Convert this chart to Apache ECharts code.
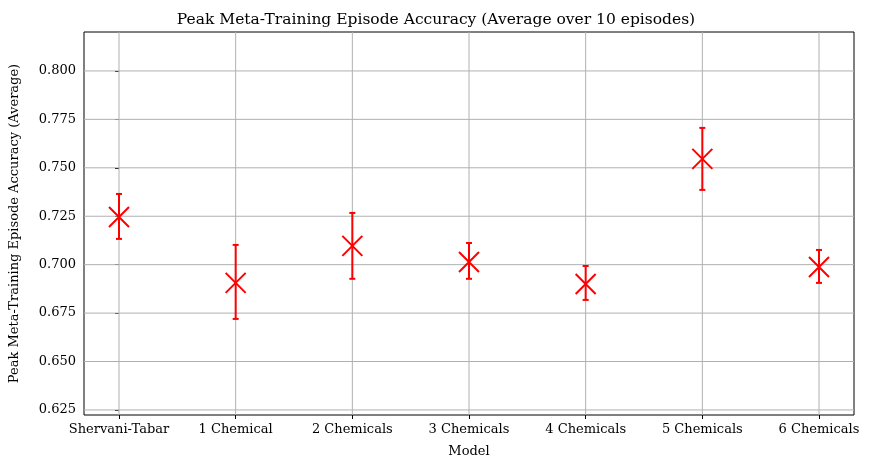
<!DOCTYPE html>
<html><head><meta charset="utf-8">
<script src="https://cdn.jsdelivr.net/npm/echarts@6/dist/echarts.min.js"></script>
<style>html,body{margin:0;background:#fff}#c{width:872px;height:469px}</style>
</head><body><div id="c"></div>
<script>
const categories = ['Shervani-Tabar', '1 Chemical', '2 Chemicals', '3 Chemicals', '4 Chemicals', '5 Chemicals', '6 Chemicals'];
const means = [0.7246, 0.6906, 0.7097, 0.7014, 0.6900, 0.7546, 0.6988];
const upper = [0.7365, 0.7102, 0.7267, 0.7112, 0.6993, 0.7706, 0.7076];
const lower = [0.7133, 0.6720, 0.6927, 0.6927, 0.6818, 0.7386, 0.6906];
const yTicks = [0.625, 0.650, 0.675, 0.700, 0.725, 0.750, 0.775, 0.800];

const font = 'DejaVu Serif';
const chart = echarts.init(document.getElementById('c'));
const xIdx = categories.map((_, i) => i);

// grid lines: [axis, value]
const gridData = xIdx.map(i => [0, i]).concat(yTicks.map(v => [1, v]));

chart.setOption({
  animation: false,
  textStyle: { fontFamily: font },
  title: { text: 'Peak Meta-Training Episode Accuracy (Average over 10 episodes)', left: 'center', top: 7,
    textStyle: { fontFamily: font, fontSize: 15.5, fontWeight: 'normal', color: '#000' } },
  grid: { left: 79, right: 18, top: 32, bottom: 54, show: true, borderColor: '#000', borderWidth: 1 },
  xAxis: {
    type: 'value', min: -0.3, max: 6.3,
    name: 'Model', nameLocation: 'middle', nameGap: 30,
    nameTextStyle: { fontFamily: font, fontSize: 13, color: '#000' },
    axisLine: { show: false }, splitLine: { show: false },
    axisTick: { show: true, customValues: xIdx, length: 4, lineStyle: { color: '#000' } },
    axisLabel: { customValues: xIdx, formatter: v => categories[Math.round(v)], fontFamily: font, fontSize: 13, color: '#000', margin: 8 }
  },
  yAxis: {
    type: 'value', min: 0.6224, max: 0.8201,
    name: 'Peak Meta-Training Episode Accuracy (Average)', nameLocation: 'middle', nameGap: 63,
    nameTextStyle: { fontFamily: font, fontSize: 13, color: '#000' },
    axisLine: { show: false }, splitLine: { show: false },
    axisTick: { show: true, customValues: yTicks, length: 4, lineStyle: { color: '#000' } },
    axisLabel: { customValues: yTicks, formatter: v => v.toFixed(3), fontFamily: font, fontSize: 13, color: '#000' }
  },
  series: [
    {
      type: 'custom', z: 1, silent: true,
      data: gridData,
      renderItem: (params, api) => {
        const cs = params.coordSys;
        const st = { stroke: '#b0b0b0', lineWidth: 1 };
        if (api.value(0) === 0) {
          const p = api.coord([api.value(1), 0.7]);
          return { type: 'line', shape: { x1: p[0], y1: cs.y, x2: p[0], y2: cs.y + cs.height }, style: st };
        }
        const p = api.coord([0, api.value(1)]);
        return { type: 'line', shape: { x1: cs.x, y1: p[1], x2: cs.x + cs.width, y2: p[1] }, style: st };
      }
    },
    {
      type: 'custom', z: 3,
      data: categories.map((_, i) => [i, lower[i], upper[i]]),
      renderItem: (params, api) => {
        const lo = api.coord([api.value(0), api.value(1)]);
        const hi = api.coord([api.value(0), api.value(2)]);
        const st = { stroke: 'red', lineWidth: 2 };
        return { type: 'group', children: [
          { type: 'line', shape: { x1: lo[0], y1: lo[1], x2: hi[0], y2: hi[1] }, style: st },
          { type: 'line', shape: { x1: lo[0] - 3, y1: lo[1], x2: lo[0] + 3, y2: lo[1] }, style: st },
          { type: 'line', shape: { x1: hi[0] - 3, y1: hi[1], x2: hi[0] + 3, y2: hi[1] }, style: st }
        ] };
      }
    },
    {
      type: 'scatter', z: 4,
      data: means.map((v, i) => [i, v]),
      symbol: 'path://M0,0L10,10M10,0L0,10', symbolSize: 20,
      itemStyle: { color: 'none', borderColor: 'red', borderWidth: 2, opacity: 1 }
    }
  ]
});
</script></body></html>
